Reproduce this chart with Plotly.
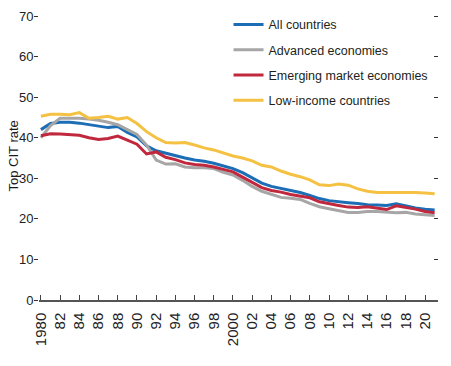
import plotly.graph_objects as go

years = list(range(1980, 2022))

all_countries = [42.0, 43.5, 43.8, 43.8, 43.6, 43.2, 42.8, 42.5, 42.8, 41.3,
                 40.2, 38.0, 36.8, 36.2, 35.5, 35.0, 34.5, 34.2, 33.7, 33.0,
                 32.4, 31.4, 30.0, 28.8, 28.0, 27.5, 27.0, 26.5, 25.8, 25.0,
                 24.5, 24.2, 24.0, 23.8, 23.5, 23.4, 23.3, 23.7, 23.2, 22.7,
                 22.4, 22.2]
advanced = [40.0, 43.0, 44.8, 44.8, 44.8, 44.6, 44.3, 43.8, 43.2, 42.0,
            40.8, 38.2, 34.5, 33.5, 33.6, 32.8, 32.6, 32.6, 32.4, 31.5,
            30.8, 29.5, 28.0, 26.8, 26.0, 25.3, 25.1, 24.8, 23.8, 23.0,
            22.5, 22.0, 21.6, 21.6, 21.8, 21.8, 21.7, 21.5, 21.6, 21.2,
            21.0, 20.8]
emerging = [40.5, 41.0, 40.9, 40.8, 40.6, 40.0, 39.6, 39.8, 40.4, 39.4,
            38.4, 36.0, 36.5, 35.2, 34.6, 33.8, 33.4, 33.2, 32.8, 32.2,
            31.6, 30.3, 29.0, 27.7, 27.0, 26.6, 26.0, 25.6, 25.2, 24.2,
            23.7, 23.3, 22.9, 22.8, 23.0, 22.7, 22.3, 23.2, 22.8, 22.4,
            21.8, 21.5]
low_income = [45.3, 45.8, 45.8, 45.7, 46.2, 44.8, 45.0, 45.3, 44.6, 45.0,
              43.5, 41.5, 40.0, 38.8, 38.7, 38.8, 38.2, 37.5, 37.0, 36.2,
              35.5, 35.0, 34.3, 33.2, 32.8, 31.8, 31.0, 30.4, 29.6, 28.4,
              28.2, 28.6, 28.3, 27.4, 26.8, 26.5, 26.5, 26.6, 26.6, 26.5,
              26.4, 26.2]

series_names = ["All countries", "Advanced economies",
                "Emerging market economies", "Low-income countries"]
series_values = [all_countries, advanced, emerging, low_income]
colors = ["#1b6db5", "#a6a6a6", "#c0283d", "#f5c143"]

x_tickvals = list(range(1980, 2021, 2))
x_ticktext = [str(y) if y in (1980, 2000) else f"{y % 100:02d}" for y in x_tickvals]
y_tickvals = [0, 10, 20, 30, 40, 50, 60, 70]
y_title = "Top CIT rate"

font_main = "Liberation Sans, Arial, sans-serif"

fig = go.Figure()
for name, vals, col in zip(series_names, series_values, colors):
    fig.add_trace(go.Scatter(x=years, y=vals, name=name, mode="lines",
                             legendgroup=name,
                             line=dict(color=col, width=3)))

# invisible trace for right-side tick axis
fig.add_trace(go.Scatter(x=[years[0]], y=[0], yaxis="y2", showlegend=False,
                         mode="markers", marker=dict(opacity=0), hoverinfo="skip"))

fig.add_annotation(text=y_title, textangle=-90, showarrow=False,
                   xref="paper", yref="paper", x=0, y=0.5,
                   xanchor="center", yanchor="middle", xshift=-26.5,
                   borderpad=0,
                   font=dict(family=font_main, size=13, color="#1a1a1a"))

fig.update_layout(
    width=451, height=366,
    margin=dict(l=31, r=21, t=2, b=74),
    paper_bgcolor="white", plot_bgcolor="white",
    showlegend=True,
    legend=dict(x=0.475, y=1.007, xanchor="left", yanchor="top",
                bgcolor="rgba(0,0,0,0)", tracegroupgap=6,
                font=dict(family=font_main, size=12.5, color="#231f20")),
    xaxis=dict(range=[1979.8, 2021.35], tickvals=x_tickvals, ticktext=x_ticktext,
               tickangle=-90, ticks="inside", ticklen=5, tickcolor="#444444",
               ticklabelstandoff=5,
               showline=True, linecolor="#555555", linewidth=1.5,
               showgrid=False, zeroline=False, automargin=False,
               tickfont=dict(family=font_main, size=15, color="#222222")),
    yaxis=dict(range=[0, 71], tickvals=y_tickvals, ticks="outside", ticklen=4,
               tickcolor="#333333", showline=False, showgrid=False, zeroline=False,
               automargin=False, ticklabeloverflow="allow", ticklabelstandoff=-2,
               tickfont=dict(family=font_main, size=13, color="#222222")),
    yaxis2=dict(overlaying="y", side="right", range=[0, 71], tickvals=y_tickvals,
                ticks="inside", ticklen=4, tickcolor="#333333", showticklabels=False,
                showline=False, showgrid=False, zeroline=False, automargin=False),
)

fig.write_html("out.html")
